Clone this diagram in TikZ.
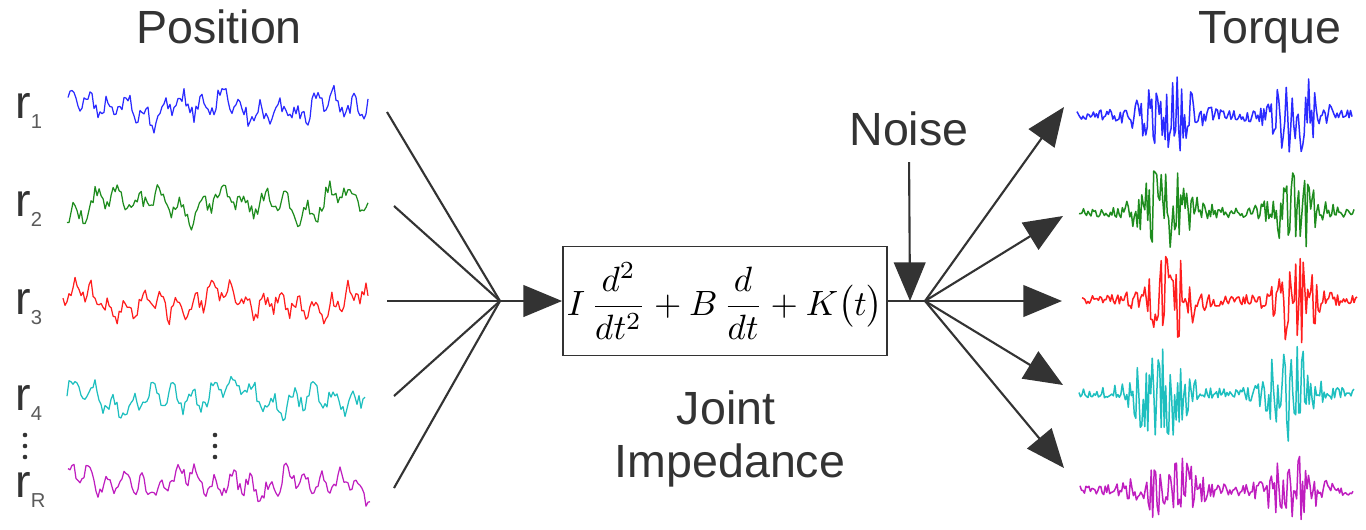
\documentclass[tikz,border=0pt]{standalone}
\usepackage{amsmath}
\usepackage{graphicx}
\usepackage{fontspec}
\setmainfont{Liberation Sans}
\usetikzlibrary{arrows.meta}
\definecolor{txtgray}{HTML}{333333}
\definecolor{subgray}{HTML}{5A5A5A}
\definecolor{sigblue}{HTML}{2A2AFF}
\definecolor{siggreen}{HTML}{1E8C1E}
\definecolor{sigred}{HTML}{FF1E1E}
\definecolor{sigcyan}{HTML}{1EBFBF}
\definecolor{sigmagenta}{HTML}{BF1EBF}

\tikzset{
  lbl/.style={text=txtgray, font=\fontsize{26.5}{31}\selectfont},
  chan/.style={lbl, anchor=base west, inner sep=0pt},
  possig/.style={line width=0.7pt, line join=round},
  tqsig/.style={line width=0.85pt, line join=round},
  conn/.style={txtgray, line width=1.2pt},
  feed/.style={conn, -{Triangle[length=22pt, width=18pt]}},
  declare function={burst(\u)=1/(1+min(abs(\u),8)^4);},
}
\newcommand{\chanlabel}[1]{r\raisebox{-6pt}{\fontsize{11.5}{11.5}\selectfont\color{subgray}#1}}

\begin{document}
\begin{tikzpicture}[x=0.02cm, y=-0.02cm]

% Background
\fill[white] (0,0) rectangle (1366,529);
\useasboundingbox (0,0) rectangle (1366,529);

% Titles
\node[lbl, anchor=base] (postitle) at (219,43) {Position};
\node[lbl, anchor=base] (tqtitle) at (1270,43) {Torque};

% ============================================================
% Left: position signals r_1 ... r_R
% ============================================================
\node[chan] (lr1) at (15,118) {\chanlabel{1}};
\node[chan] (lr2) at (15,216) {\chanlabel{2}};
\node[chan] (lr3) at (15,314) {\chanlabel{3}};
\node[chan] (lr4) at (15,410) {\chanlabel{4}};
\node[chan] (lrR) at (15,497) {\chanlabel{R}};

\pgfmathsetseed{11}
\draw[possig, sigblue] plot[domain=68:368, samples=151]
  (\x, {108 + 8*sin(19*\x+20) + 6*sin(7.3*\x+60) + 6*sin(2.9*\x+10) + 8*rand});
\pgfmathsetseed{12}
\draw[possig, siggreen] plot[domain=67:368, samples=151]
  (\x, {203 + 8*sin(17*\x+80) + 7*sin(6.1*\x+10) + 6*sin(3.3*\x+200) + 7*rand});
\pgfmathsetseed{13}
\draw[possig, sigred] plot[domain=63:368, samples=153]
  (\x, {303 + 8*sin(21*\x+140) + 6*sin(5.3*\x+200) + 6*sin(2.4*\x+90) + 8*rand});
\pgfmathsetseed{14}
\draw[possig, sigcyan] plot[domain=67:365, samples=150]
  (\x, {397 + 8*sin(18*\x+30) + 8*sin(4.7*\x+250) + 6*sin(2.2*\x+140) + 7*rand});
\pgfmathsetseed{15}
\draw[possig, sigmagenta] plot[domain=68:370, samples=152]
  (\x, {483 + 8*sin(20*\x+300) + 6*sin(6.7*\x+120) + 5*sin(3.1*\x+40) + 7*rand});

% vertical dots between r_4 and r_R
\fill[txtgray] (25,435) circle (1.3pt) (25,446) circle (1.3pt) (25,457) circle (1.3pt);
\fill[txtgray] (215,435) circle (1.3pt) (215,446) circle (1.3pt) (215,457) circle (1.3pt);

% Inputs converging on the impedance
\coordinate (in1) at (387,112);
\coordinate (in2) at (394,206);
\coordinate (in3) at (387,301);
\coordinate (in4) at (394,396);
\coordinate (in5) at (394,488);
\coordinate (join) at (500,301);
\draw[conn] (in1) -- (join);
\draw[conn] (in2) -- (join);
\draw[conn] (in3) -- (join);
\draw[conn] (in4) -- (join);
\draw[conn] (in5) -- (join);

% ============================================================
% Joint impedance block
% ============================================================
\node[draw=txtgray, line width=1.1pt, minimum width=6.48cm, minimum height=2.18cm,
  inner sep=0pt] (imp) at (725,301)
  {\scalebox{2}{$\displaystyle I\,\frac{d^2}{dt^2}+B\,\frac{d}{dt}+K\bigl(t\bigr)$}};
\draw[feed] (join) -- (imp.west);

\node[lbl, anchor=base] (joint) at (726,424) {Joint};
\node[lbl, anchor=base] (imped) at (730,477) {Impedance};

% Noise entering after the block
\node[lbl, anchor=base] (noise) at (909,145) {Noise};
\coordinate (sum) at (910,301);
\coordinate (split) at (925,301);
\draw[conn] (imp.east) -- (split);
\draw[feed, shorten <=6pt] (noise.south) -- (sum);

% Outputs fanning out to the torques
\coordinate (out1) at (1064,107);
\coordinate (out2) at (1063,216);
\coordinate (out3) at (1062,301);
\coordinate (out4) at (1063,385);
\coordinate (out5) at (1064,468);
\draw[feed] (split) -- (out1);
\draw[feed] (split) -- (out2);
\draw[feed] (split) -- (out3);
\draw[feed] (split) -- (out4);
\draw[feed] (split) -- (out5);

% ============================================================
% Right: torque signals (bursts at the two pulses)
% ============================================================
\pgfmathsetseed{21}
\draw[tqsig, sigblue] plot[domain=1077:1352, samples=185]
  (\x, {115 + (4 + 38*burst((\x-1166)/26) + 36*burst((\x-1296)/24))*rand});
\pgfmathsetseed{22}
\draw[tqsig, siggreen] plot[domain=1079:1354, samples=185]
  (\x, {212 + (4 + 40*burst((\x-1165)/26) + 40*burst((\x-1294)/22))*rand});
\pgfmathsetseed{23}
\draw[tqsig, sigred] plot[domain=1082:1357, samples=185]
  (\x, {300 + (4 + 40*burst((\x-1168)/24) + 40*burst((\x-1296)/20))*rand});
\pgfmathsetseed{24}
\draw[tqsig, sigcyan] plot[domain=1079:1354, samples=185]
  (\x, {393 + (4 + 42*burst((\x-1160)/26) + 44*burst((\x-1290)/22))*rand});
\pgfmathsetseed{25}
\draw[tqsig, sigmagenta] plot[domain=1080:1353, samples=185]
  (\x, {490 + (4 + 30*burst((\x-1168)/28) + 30*burst((\x-1292)/24))*rand});

\end{tikzpicture}
\end{document}
